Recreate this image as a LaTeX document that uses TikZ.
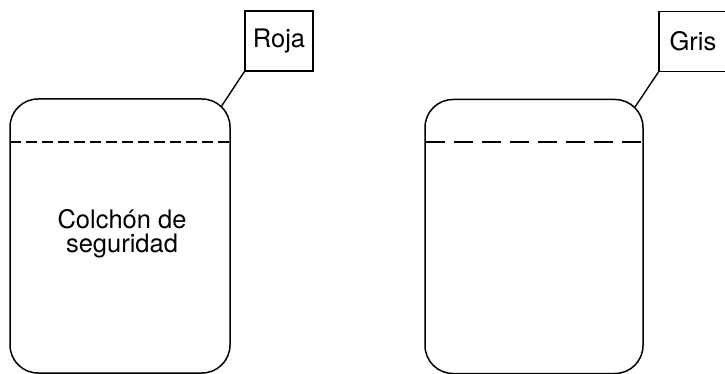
\documentclass[tikz,border=0pt]{standalone}
\usepackage{fontspec}
\setmainfont{TeX Gyre Heros}
\begin{document}
\begin{tikzpicture}[x=1pt,y=-1pt,
  tank/.style={draw, line width=1.5pt, rounded corners=28pt, minimum width=220pt, minimum height=274pt, inner sep=0pt},
  tag/.style={draw, line width=1.4pt, minimum width=68pt, minimum height=60pt, inner sep=0pt, font=\fontsize{25.5}{25.5}\selectfont},
  leader/.style={line width=1.4pt},
  level/.style={line width=1.6pt}]
\useasboundingbox (0,0) rectangle (725,374);
% left tank
\node[tank] (tankL) at (120,236) {};
\node[font=\fontsize{25.5}{24}\selectfont, align=center, inner sep=0pt] (txt) at (122,234) {Colchón de\\seguridad};
\draw[level, dash pattern=on 11pt off 5pt] (10,142) coordinate (dl1) -- (230,142) coordinate (dl2);
\node[tag] (roja) at (279,41) {Roja};
\coordinate (pL) at (221,107);
\draw[leader] (roja.south west) -- (pL);
% right tank
\node[tank, minimum width=218pt] (tankR) at (534,236.5) {};
\draw[level, dash pattern=on 19pt off 9pt] (426,142) coordinate (dr1) -- (643,142) coordinate (dr2);
\node[tag] (gris) at (693,41.5) {Gris};
\coordinate (pR) at (635,107);
\draw[leader] (gris.south west) -- (pR);
\end{tikzpicture}
\end{document}
